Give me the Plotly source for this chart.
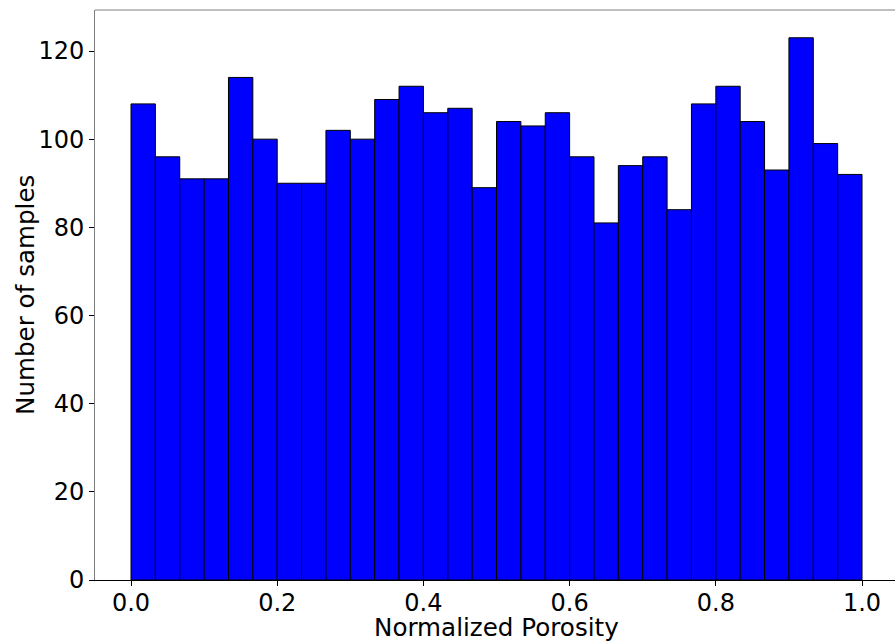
import numpy as np
import plotly.graph_objects as go

counts = [108, 96, 91, 91, 114, 100, 90, 90, 102, 100, 109, 112, 106, 107, 89,
          104, 103, 106, 96, 81, 94, 96, 84, 108, 112, 104, 93, 123, 99, 92]
bin_lo, bin_hi = 0.0, 1.0
x_ticks = [0.0, 0.2, 0.4, 0.6, 0.8, 1.0]
y_ticks = [0, 20, 40, 60, 80, 100, 120]
x_label = "Normalized Porosity"
y_label = "Number of samples"

n = len(counts)
edges = np.linspace(bin_lo, bin_hi, n + 1)
centers = (edges[:-1] + edges[1:]) / 2
w = (bin_hi - bin_lo) / n

fig = go.Figure(go.Bar(
    x=centers, y=counts, width=w,
    marker=dict(color="#0000ff", line=dict(color="black", width=1)),
))

font = "DejaVu Sans, Arial, sans-serif"
fig.update_layout(
    width=895, height=644,
    margin=dict(l=95, r=0, t=10, b=64, autoexpand=False),
    plot_bgcolor="white", paper_bgcolor="white",
    showlegend=False,
    font=dict(family=font, size=24, color="black"),
    xaxis=dict(
        range=[-0.04925, 1.0451], tickvals=x_ticks,
        ticktext=[f"{v:.1f}" for v in x_ticks],
        ticks="outside", ticklen=5, tickcolor="black",
        ticklabelstandoff=-4,
        showline=True, linecolor="black", linewidth=1,
        showgrid=False, zeroline=False, automargin=False,
        tickfont=dict(size=24),
    ),
    yaxis=dict(
        range=[0, 129.3], tickvals=y_ticks,
        ticks="outside", ticklen=5, tickcolor="black",
        showline=True, linecolor="#7f7f7f", linewidth=1,
        showgrid=False, zeroline=False, automargin=False,
        tickfont=dict(size=24),
    ),
    shapes=[dict(type="line", xref="paper", yref="paper", x0=0, x1=1, y0=1, y1=1,
                 line=dict(color="#7f7f7f", width=1))],
    annotations=[
        dict(text=x_label, xref="x", yref="paper", x=0.5 * (bin_lo + bin_hi), y=0,
             xanchor="center", yanchor="middle", yshift=-47, showarrow=False,
             font=dict(size=24.6)),
        dict(text=y_label, xref="paper", yref="paper", x=0, y=0.5,
             xanchor="center", yanchor="middle", xshift=-70, textangle=-90,
             showarrow=False, font=dict(size=24.6)),
    ],
)

fig.write_html(
    "out.html",
    config={"displayModeBar": False},
    post_script="document.body.style.margin='0';document.body.style.overflow='hidden';",
)
